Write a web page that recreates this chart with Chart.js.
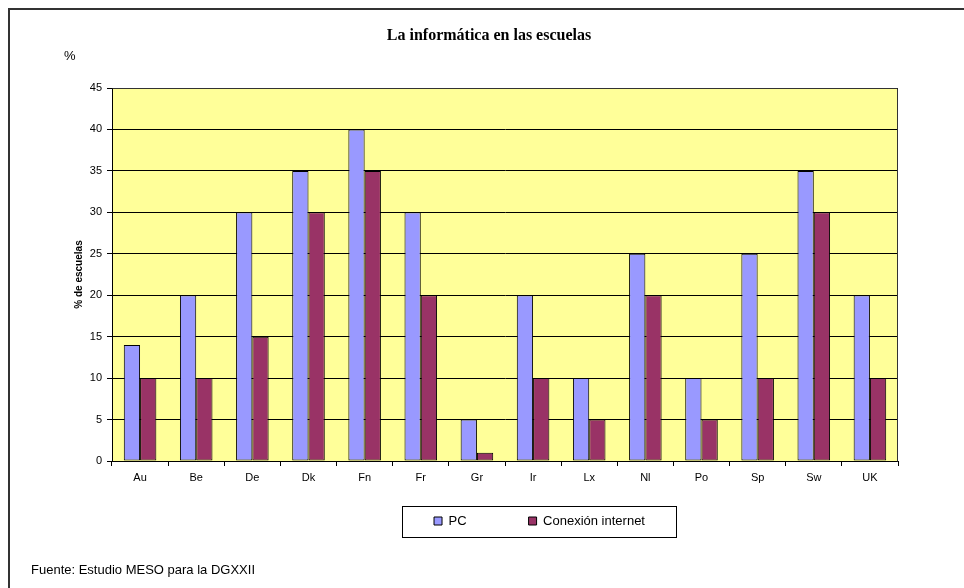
<!DOCTYPE html>
<html>
<head>
<meta charset="utf-8">
<script src="https://cdn.jsdelivr.net/npm/chart.js@4.4.0/dist/chart.umd.min.js"></script>
<style>
body { margin: 0; background: #fff; }
</style>
</head>
<body>
<canvas id="informatica" width="964" height="588"></canvas>
<script>
// Datos del grafico
const paises = ['Au', 'Be', 'De', 'Dk', 'Fn', 'Fr', 'Gr', 'Ir', 'Lx', 'Nl', 'Po', 'Sp', 'Sw', 'UK'];
const valoresPC = [14, 20, 30, 35, 40, 30, 5, 20, 10, 25, 10, 25, 35, 20];
const valoresInternet = [10, 10, 15, 30, 35, 20, 1, 10, 5, 20, 5, 10, 30, 10];
const ejeMin = 0;
const ejeMax = 45;
const ejePaso = 5;

const titulo = 'La informática en las escuelas';
const unidad = '%';
const fuente = 'Fuente: Estudio MESO para la DGXXII';

const arial = 'Liberation Sans';
const legendPadding = 62;

const decoracion = {
    id: 'decoracion',
    afterLayout(chart) {
        // mover la leyenda donde esta en el original
        const lg = chart.legend;
        const dx = 539.5 - (lg.left + lg.right) / 2;
        lg.left += dx;
        lg.right += dx;
        const dy = 452.5 - lg.top;
        lg.top += dy;
        lg.bottom += dy;
    },
    beforeDraw(chart) {
        const ctx = chart.ctx;
        const a = chart.chartArea;
        ctx.save();
        ctx.fillStyle = '#FFFF99';
        ctx.fillRect(a.left, a.top, a.right - a.left, a.bottom - a.top);
        ctx.restore();
    },
    afterDraw(chart) {
        const ctx = chart.ctx;
        const a = chart.chartArea;
        ctx.save();
        // borde del area de trazado
        ctx.strokeStyle = '#333';
        ctx.lineWidth = 1;
        ctx.beginPath();
        ctx.moveTo(Math.floor(a.left) + 0.5, Math.floor(a.top) + 0.5);
        ctx.lineTo(Math.floor(a.right) - 0.5, Math.floor(a.top) + 0.5);
        ctx.lineTo(Math.floor(a.right) - 0.5, Math.floor(a.bottom) + 0.5);
        ctx.stroke();

        // borde exterior (solo izquierda y arriba)
        ctx.fillStyle = '#333';
        ctx.fillRect(8, 8, 2, 580);
        ctx.fillRect(8, 8, 956, 2);

        // marco de la leyenda
        const lg = chart.legend;
        const anchoItems = lg.lineWidths[0] - legendPadding;
        const cx = (lg.left + lg.right) / 2;
        const cy = lg.top + legendPadding + 6.5;
        ctx.strokeStyle = '#000';
        ctx.strokeRect(Math.round(cx - anchoItems / 2 - 32) + 0.5, Math.round(cy - 15) + 0.5,
            Math.round(anchoItems + 63), 31);

        // textos
        ctx.fillStyle = '#000';
        ctx.textBaseline = 'middle';
        ctx.textAlign = 'center';
        ctx.font = 'bold 16px "Liberation Serif"';
        ctx.fillText(titulo, 489, 36);
        ctx.textAlign = 'left';
        ctx.font = '13px "' + arial + '"';
        ctx.fillText(unidad, 64, 56);
        ctx.fillText(fuente, 31, 570);
        ctx.restore();
    }
};

let informatica = new Chart(
    document.getElementById('informatica').getContext('2d'),
    {
        type: 'bar',
        data: {
            labels: paises,
            datasets: [{
                label: 'PC',
                data: valoresPC,
                backgroundColor: '#9999FF',
                borderColor: '#000',
                borderWidth: 1,
                borderSkipped: false
            }, {
                label: 'Conexión internet',
                data: valoresInternet,
                backgroundColor: '#993366',
                borderColor: '#000',
                borderWidth: 1,
                borderSkipped: false
            }]
        },
        options: {
            responsive: false,
            animation: false,
            categoryPercentage: 0.58,
            barPercentage: 1,
            layout: {
                padding: { top: 88, left: 32, right: 66, bottom: 13.8 }
            },
            plugins: {
                tooltip: { enabled: false },
                legend: {
                    position: 'bottom',
                    labels: {
                        font: { family: arial, size: 13 },
                        color: '#000',
                        boxWidth: 8,
                        boxHeight: 8,
                        padding: legendPadding
                    }
                }
            },
            scales: {
                x: {
                    grid: {
                        drawOnChartArea: false,
                        drawTicks: true,
                        tickLength: 5,
                        color: '#000'
                    },
                    border: { color: '#000' },
                    ticks: {
                        font: { family: arial, size: 11 },
                        color: '#000',
                        padding: 5,
                        maxRotation: 0
                    }
                },
                y: {
                    min: ejeMin,
                    max: ejeMax,
                    afterFit(scale) {
                        scale.width = 80;
                    },
                    grid: {
                        color: '#000',
                        tickLength: 5
                    },
                    border: { color: '#000' },
                    ticks: {
                        stepSize: ejePaso,
                        font: { family: arial, size: 11 },
                        color: '#000',
                        padding: 5
                    },
                    title: {
                        display: true,
                        text: '% de escuelas',
                        font: { family: arial, size: 10, weight: 'bold' },
                        color: '#000',
                        padding: { top: 41, bottom: 0 }
                    }
                }
            }
        },
        plugins: [decoracion]
    });
</script>
</body>
</html>
